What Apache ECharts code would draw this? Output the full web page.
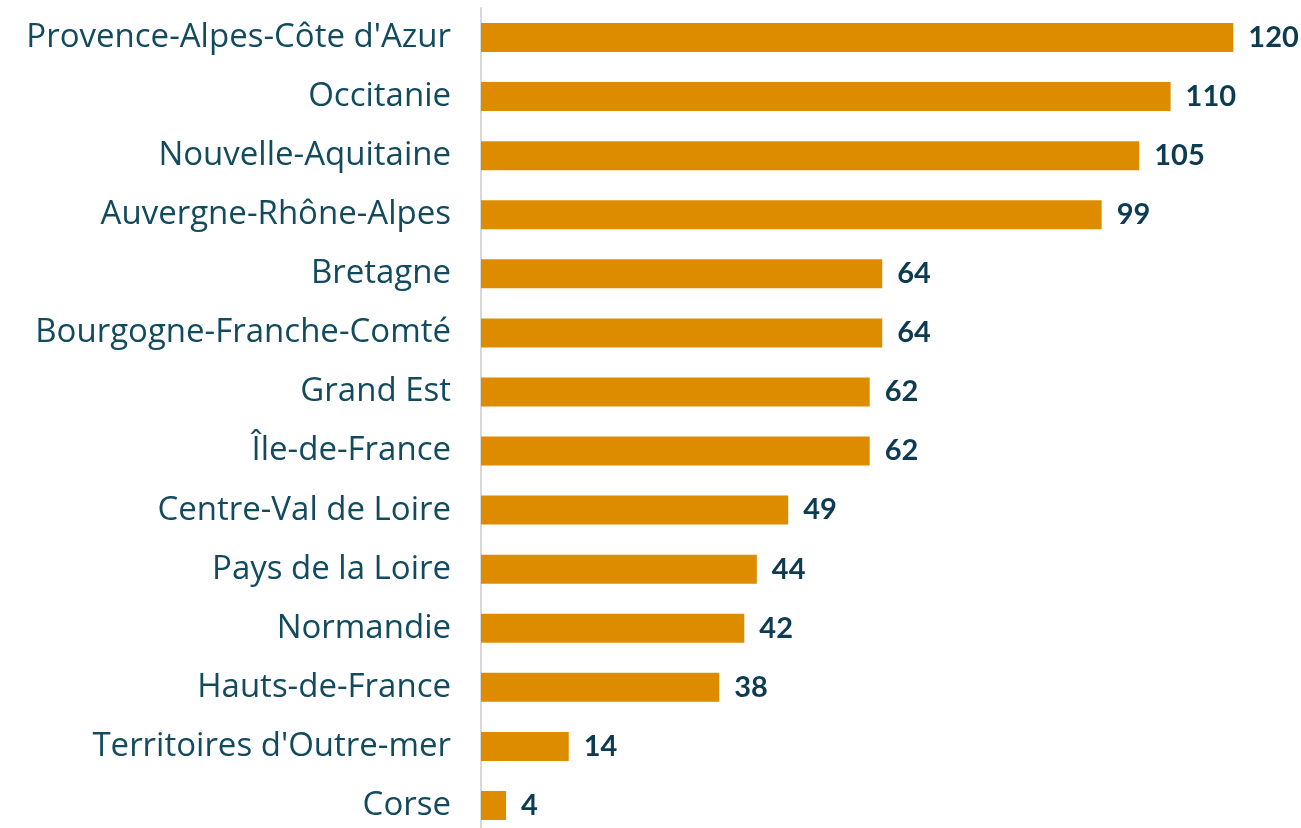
<!DOCTYPE html>
<html>
<head>
<meta charset="utf-8">
<script src="https://cdn.jsdelivr.net/npm/echarts@6/dist/echarts.min.js"></script>
<style>
  html, body { margin: 0; padding: 0; background: #fff; overflow: hidden; }
  #chart { width: 1301px; height: 836px; }
</style>
</head>
<body>
<div id="chart"></div>
<script>
  const regions = [
    'Provence-Alpes-Côte d\'Azur', 'Occitanie', 'Nouvelle-Aquitaine', 'Auvergne-Rhône-Alpes',
    'Bretagne', 'Bourgogne-Franche-Comté', 'Grand Est', 'Île-de-France',
    'Centre-Val de Loire', 'Pays de la Loire', 'Normandie', 'Hauts-de-France',
    'Territoires d\'Outre-mer', 'Corse'
  ];
  const counts = [120, 110, 105, 99, 64, 64, 62, 62, 49, 44, 42, 38, 14, 4];

  let chart = echarts.init(document.getElementById('chart'));
  chart.setOption({
    animation: false,
    grid: {
      left: 481,
      top: 8,
      right: 5,
      bottom: 1,
      containLabel: false
    },
    xAxis: {
      type: 'value',
      min: 0,
      max: 130,
      show: false
    },
    yAxis: {
      type: 'category',
      inverse: true,
      data: regions,
      axisLine: { show: true, lineStyle: { color: '#d9d9d9', width: 2 } },
      axisTick: { show: false },
      axisLabel: {
        margin: 30,
        fontFamily: '"Open Sans"',
        fontSize: 33,
        color: '#124a5e'
      }
    },
    series: [{
      type: 'bar',
      data: counts,
      barWidth: 29,
      itemStyle: { color: '#dd8c00' },
      label: {
        show: true,
        position: 'right',
        distance: 15,
        fontFamily: 'Lato',
        fontWeight: 'bold',
        fontSize: 29,
        color: '#0d3b52'
      }
    }]
  });
</script>
</body>
</html>
